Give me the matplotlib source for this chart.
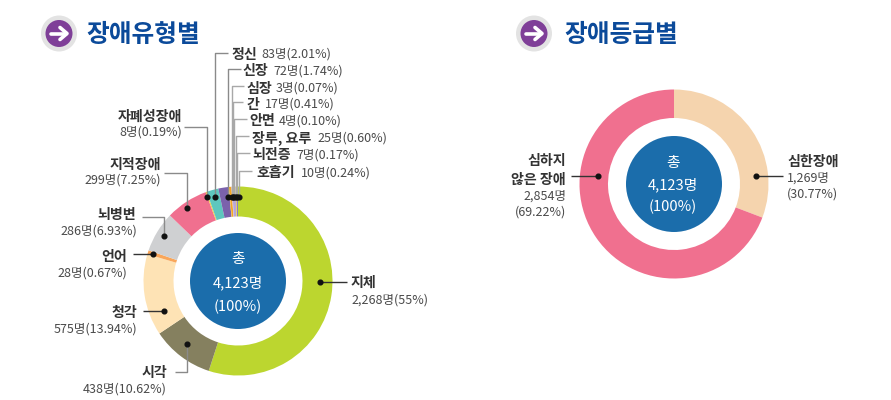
import matplotlib
matplotlib.use('Agg')
import matplotlib.pyplot as plt
from matplotlib.patches import Circle

plt.rcParams['font.family'] = ['Noto Sans CJK KR', 'DejaVu Sans']

W, H = 891, 400

# 장애유형별 data, clockwise from 12 o'clock
type_names = ['지체', '시각', '청각', '언어', '뇌병변', '지적장애', '자폐성장애', '정신',
              '신장', '심장', '간', '안면', '장루, 요루', '뇌전증', '호흡기']
type_counts = [2268, 438, 575, 28, 286, 299, 8, 83, 72, 3, 17, 4, 25, 7, 10]
type_labels = ['2,268명(55%)', '438명(10.62%)', '575명(13.94%)', '28명(0.67%)', '286명(6.93%)',
               '299명(7.25%)', '8명(0.19%)', '83명(2.01%)', '72명(1.74%)', '3명(0.07%)',
               '17명(0.41%)', '4명(0.10%)', '25명(0.60%)', '7명(0.17%)', '10명(0.24%)']
type_colors = ['#BCD62F', '#85805F', '#FEE3B5', '#F9A65A', '#CFD0D2', '#F0708F', '#F3D03E', '#5EC7BE',
               '#7B62AC', '#F3D03E', '#F5A623', '#C9B6DC', '#B9A8D6', '#F3D03E', '#8E7CC3']

# 장애등급별 data
grade_counts = [1269, 2854]
grade_colors = ['#F5D4AE', '#F0708F']

total_lines = ['총', '4,123명', '(100%)']

fig = plt.figure(figsize=(W / 100, H / 100), dpi=100)
ax = fig.add_axes([0, 0, 1, 1])


def py(y):
    # picture y (from the top) to axes y
    return H - y


def donut(cx, cy, counts, colors, ring):
    ax.pie(counts, colors=colors, startangle=90, counterclock=False, center=(cx, py(cy)),
           radius=94.5, frame=True, wedgeprops=dict(width=ring, linewidth=0))
    ax.add_patch(Circle((cx, py(cy)), 48, color='#1B6DAB', lw=0, zorder=3))


def leader(points, color='#8A8A8A', dot=True, lw=1.0):
    xs = [p[0] for p in points]
    ys = [py(p[1]) for p in points]
    ax.plot(xs, ys, color=color, lw=lw, zorder=4, solid_capstyle='butt')
    if dot:
        ax.plot(xs[-1], ys[-1], 'o', color='#111111', ms=3.4, zorder=5)


def bold(x, y, s, ha='left'):
    ax.text(x, py(y + 1.5), s, ha=ha, va='center', fontsize=10.1, color='#333333', fontweight='bold', zorder=6)


def thin(x, y, s, ha='left'):
    ax.text(x, py(y + 1), s, ha=ha, va='center', fontsize=9.0, color='#4A4A4A', zorder=6)


def heading(icon_x, text_x, s):
    yc = py(33.5)
    ax.add_patch(Circle((icon_x, yc), 18, color='#E3E3E3', lw=0, zorder=2))
    ax.add_patch(Circle((icon_x, yc), 13.5, color='#7F3F98', lw=0, zorder=3))
    ax.plot([icon_x - 8, icon_x + 7], [yc, yc], color='white', lw=2.6, zorder=4, solid_capstyle='round')
    ax.plot([icon_x + 1, icon_x + 8, icon_x + 1], [yc + 6, yc, yc - 6], color='white', lw=2.6, zorder=4,
            solid_capstyle='round', solid_joinstyle='round')
    ax.text(text_x, py(35), s, ha='left', va='center', fontsize=17.8, color='#0B4A9A',
            fontweight='bold', zorder=6)


def centre(cx, ys):
    for s, y in zip(total_lines, ys):
        ax.text(cx, py(y + 1.5), s, ha='center', va='center', fontsize=10.6, color='white', zorder=6)


donut(238, 281, type_counts, type_colors, 30)
donut(674, 184, grade_counts, grade_colors, 28.5)
centre(238, [257, 281, 305])
centre(673, [161, 183, 205])
heading(59, 86, '장애유형별')
heading(534, 564, '장애등급별')

# top stack of labels, name + value on one row
rows = [(7, 231, 261, 53), (8, 242, 273, 70), (9, 246, 276, 87), (10, 247, 265, 103),
        (11, 249, 279, 120), (12, 252, 317, 137), (13, 252, 296, 154), (14, 256, 301, 172)]
for i, x1, x2, y in rows:
    bold(x1, y, type_names[i])
    thin(x2, y, type_labels[i])

stack_grey = '#A8A8A8'
leader([(228, 53), (215, 53), (215, 197)])
leader([(241, 69), (228, 69), (228, 197)])
leader([(244, 86), (232, 86), (232, 197)], color=stack_grey)
leader([(243, 102), (233, 102), (233, 197)], color=stack_grey)
leader([(247, 119), (234, 119), (234, 197)], color=stack_grey)
leader([(249, 136), (236, 136), (236, 197)], color=stack_grey)
leader([(250, 153), (237, 153), (237, 197)], color=stack_grey)
leader([(252, 171), (239, 171), (239, 197)], color=stack_grey)
ax.plot([228, 240], [py(197), py(197)], color='#111111', lw=2.2, zorder=5)

# stacked labels round the left and right of the first donut
bold(182, 115, type_names[6], ha='right')
thin(182, 131, type_labels[6], ha='right')
leader([(184, 127), (207, 127), (207, 197)])

bold(161, 163, type_names[5], ha='right')
thin(161, 179, type_labels[5], ha='right')
leader([(164, 173), (187, 173), (187, 208)])

bold(136, 214, type_names[4], ha='right')
thin(137, 230, type_labels[4], ha='right')
leader([(142, 217), (164, 217), (164, 236)])

bold(127, 255, type_names[3], ha='right')
thin(127, 272, type_labels[3], ha='right')
leader([(133, 254), (153, 254)], color='#333333')

bold(137, 311, type_names[2], ha='right')
thin(137, 328, type_labels[2], ha='right')
leader([(143, 311), (164, 311)], color='#333333')

bold(167, 371, type_names[1], ha='right')
thin(167, 388, type_labels[1], ha='right')
leader([(175, 372), (187, 372), (187, 344)])

bold(351, 281, type_names[0])
thin(351, 299, type_labels[0])
leader([(347, 282), (320, 282)], color='#333333')

# second donut labels
bold(787, 160, '심한장애')
thin(787, 177, '1,269명')
thin(787, 193, '(30.77%)')
leader([(783, 176), (756, 176)], color='#333333')

bold(566, 160, '심하지', ha='right')
bold(566, 178, '않은 장애', ha='right')
thin(566, 195, '2,854명', ha='right')
thin(566, 211, '(69.22%)', ha='right')
leader([(571, 176), (598, 176)], color='#333333')

ax.set_xlim(0, W)
ax.set_ylim(0, H)
ax.set_aspect('auto')
ax.axis('off')

fig.savefig('out.png', dpi=100, facecolor='white')
